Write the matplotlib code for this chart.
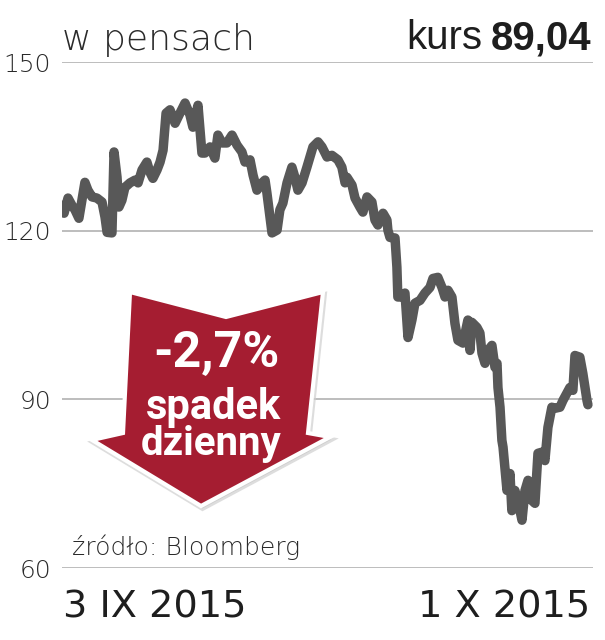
import matplotlib
matplotlib.use("Agg")
import matplotlib.pyplot as plt
from matplotlib.patches import Polygon

# ---- data (days since 3 IX 2015, price in pence) ----
days = [0.00, 0.11, 0.32, 0.53, 0.69, 0.90, 1.06, 1.22, 1.38, 1.60, 1.86, 2.13, 2.29, 2.40, 2.66,
        2.77, 2.93, 3.03, 3.19, 3.35, 3.62, 3.89, 4.05, 4.26, 4.52, 4.68, 4.84, 5.06, 5.22, 5.38,
        5.54, 5.75, 6.02, 6.28, 6.55, 6.81, 6.97, 7.24, 7.45, 7.61, 7.88, 8.14, 8.30, 8.52, 8.78,
        9.05, 9.32, 9.58, 9.74, 10.01, 10.17, 10.38, 10.65, 10.81, 10.91, 11.07, 11.18, 11.45, 11.60,
        11.76, 11.98, 12.24, 12.40, 12.56, 12.78, 13.04, 13.20, 13.36, 13.63, 13.84, 14.11, 14.37,
        14.69, 14.90, 15.07, 15.17, 15.44, 15.60, 15.86, 16.02, 16.24, 16.50, 16.66, 16.82, 17.09,
        17.30, 17.35, 17.46, 17.73, 17.83, 17.88, 18.10, 18.26, 18.42, 18.63, 18.79, 19.06, 19.32,
        19.59, 19.75, 20.01, 20.23, 20.39, 20.55, 20.76, 20.92, 21.08, 21.35, 21.61, 21.72, 21.82,
        22.09, 22.25, 22.36, 22.52, 22.68, 22.89, 23.05, 23.16, 23.21, 23.32, 23.42, 23.48, 23.58,
        23.69, 23.85, 23.95, 24.11, 24.27, 24.49, 24.65, 24.81, 25.02, 25.18, 25.34, 25.55, 25.71,
        25.87, 26.08, 26.24, 26.51, 26.67, 26.88, 27.04, 27.20, 27.31, 27.57, 27.73, 27.95, 28.00]
price = [124.5, 123.1, 125.8, 124.5, 123.7, 122.2, 125.4, 128.6, 127.2, 126.0, 125.8, 125.1, 122.4, 119.7, 119.6,
         134.0, 129.5, 124.2, 125.4, 127.7, 128.5, 129.0, 128.5, 130.8, 132.2, 130.4, 129.3, 130.8, 132.2, 134.3,
         140.9, 141.5, 139.1, 140.9, 142.7, 140.6, 138.4, 142.3, 133.8, 133.8, 134.9, 132.9, 137.0, 135.6, 135.6,
         137.0, 135.2, 134.0, 132.2, 132.6, 129.9, 127.2, 128.5, 129.0, 126.7, 122.4, 119.6, 120.1, 123.7,
         124.9, 128.5, 131.3, 129.5, 127.2, 128.5, 131.3, 133.1, 134.9, 135.8, 134.9, 133.1, 133.4,
         132.6, 131.3, 128.5, 129.5, 128.1, 125.8, 124.2, 123.3, 126.0, 125.1, 121.9, 121.0, 123.1,
         121.9, 120.1, 118.8, 118.7, 113.5, 108.2, 108.2, 108.9, 101.0, 104.1, 107.1, 107.6, 108.9,
         109.9, 111.5, 111.7, 109.9, 108.2, 109.4, 108.2, 103.5, 100.5, 100.0, 104.1, 98.7, 103.7,
         102.8, 101.8, 98.2, 96.4, 98.7, 99.6, 95.7, 96.4, 92.1, 88.6, 82.7, 81.5, 77.9,
         73.8, 76.8, 70.2, 73.8, 72.0, 68.5, 73.8, 75.6, 72.0, 71.5, 80.4, 80.6, 79.1,
         85.0, 88.6, 88.4, 88.6, 89.8, 91.1, 92.1, 91.6, 97.8, 97.5, 94.6, 89.8, 89.04]
yticks = [60, 90, 120, 150]
ytick_labels = ["60", "90", "120", "150"]
date_labels = ["3 IX 2015", "1 X 2015"]
unit_label = "w pensach"
last_price = "89,04"
change_label = "-2,7%"
source = "źródło: Bloomberg"

W, H = 605, 640
fig = plt.figure(figsize=(W / 100, H / 100), dpi=100)
fig.patch.set_facecolor("white")

def fx(px):
    return px / W

def fy(py):
    return 1 - py / H

ax = fig.add_axes([fx(62), fy(568), fx(593) - fx(62), fy(62) - fy(568)])
ax.set_xlim(0, 28.27)
ax.set_ylim(60, 150)
for s in ax.spines.values():
    s.set_visible(False)
ax.set_xticks([])
ax.set_yticks(yticks)
ax.set_yticklabels(ytick_labels)
ax.tick_params(axis="y", length=0, pad=8, labelsize=18, labelcolor="#2a2a2a")
for lab in ax.get_yticklabels():
    lab.set_fontfamily(["DejaVu Sans"])
    lab.set_fontweight(200)
for t in yticks:
    ax.axhline(t, color="#b8b8b8", lw=1.3, zorder=1)

ax.plot(days, price, color="#585858", lw=6.8, solid_joinstyle="round",
        solid_capstyle="round", zorder=3)

# ---- header ----
fig.text(fx(62), fy(50), unit_label, ha="left", va="baseline", fontsize=26,
         family=["DejaVu Sans"], fontweight=200, color="#2a2a2a")
t_price = fig.text(fx(591), fy(49), last_price, ha="right", va="baseline", fontsize=29,
                   family=["Liberation Sans", "DejaVu Sans"], fontweight="bold", color="#1e1e1e")
fig.canvas.draw()
bb = t_price.get_window_extent()
fig.text((bb.x0 - 8) / W, fy(49), "kurs", ha="right", va="baseline", fontsize=29,
         family=["Liberation Sans", "DejaVu Sans"], color="#1e1e1e")

# ---- footer ----
fig.text(fx(63), fy(618), date_labels[0], ha="left", va="baseline", fontsize=27.5,
         family=["DejaVu Sans"], color="#1e1e1e")
fig.text(fx(590), fy(618), date_labels[1], ha="right", va="baseline", fontsize=27.5,
         family=["DejaVu Sans"], color="#1e1e1e")
fig.text(fx(72), fy(555), source, ha="left", va="baseline", fontsize=18,
         family=["DejaVu Sans"], fontweight=200, color="#2a2a2a")

# ---- arrow badge ----
arrow_px = [(130, 292), (226, 317), (323, 292), (308, 433), (330, 437),
            (201, 506), (92, 440), (123, 433)]
shadow = Polygon([(fx(x + 1.5), fy(y + 2.5)) for x, y in arrow_px], closed=True,
                 transform=fig.transFigure, facecolor="#b5b5b5", edgecolor="#cfcfcf",
                 lw=3.5, joinstyle="miter", alpha=0.7, zorder=4)
badge = Polygon([(fx(x), fy(y)) for x, y in arrow_px], closed=True,
                transform=fig.transFigure, facecolor="#a51d31", edgecolor="white",
                lw=3, joinstyle="miter", zorder=5)
ax.add_artist(shadow)
ax.add_artist(badge)
shadow.set_clip_on(False)
badge.set_clip_on(False)

bold = ["Roboto", "DejaVu Sans"]
fig.text(fx(216), fy(367), change_label, ha="center", va="baseline", fontsize=36,
         family=bold, fontweight="bold", color="white", zorder=6)
fig.text(fx(213), fy(419), "spadek", ha="center", va="baseline", fontsize=30,
         family=bold, fontweight="bold", color="white", zorder=6)
fig.text(fx(211), fy(455), "dzienny", ha="center", va="baseline", fontsize=29,
         family=bold, fontweight="bold", color="white", zorder=6)

fig.savefig("out.png", dpi=100, facecolor="white")
